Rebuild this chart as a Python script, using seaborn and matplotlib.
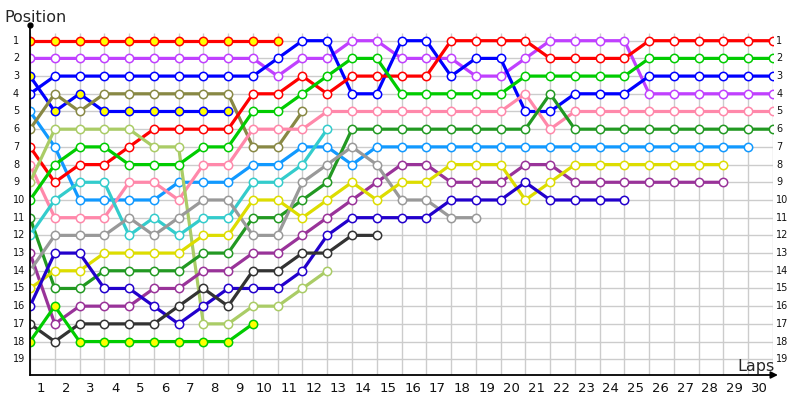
import matplotlib

matplotlib.use("Agg")
import matplotlib.pyplot as plt
import numpy as np
import seaborn as sns

# --------------------------------------------------------------------------- #
# Lap chart data: race position at the end of each lap (lap 0 = grid)
# --------------------------------------------------------------------------- #
red_leader = [1, 1, 1, 1, 1, 1, 1, 1, 1, 1, 1]
violet = [2, 2, 2, 2, 2, 2, 2, 2, 2, 2, 3, 2, 2, 1, 1, 2, 2, 2, 3, 3, 2,
          1, 1, 1, 1, 4, 4, 4, 4, 4, 4]
blue_third = [3, 5, 4, 5, 5, 5, 5, 5, 5]
blue = [4, 3, 3, 3, 3, 3, 3, 3, 3, 3, 2, 1, 1, 4, 4, 1, 1, 3, 2, 2, 5,
        5, 4, 4, 4, 3, 3, 3, 3, 3, 3]
azure = [5, 7, 10, 10, 10, 10, 9, 9, 9, 8, 8, 7, 7, 8, 7, 7, 7, 7, 7, 7,
         7, 7, 7, 7, 7, 7, 7, 7, 7, 7]
olive = [6, 4, 5, 4, 4, 4, 4, 4, 4, 7, 7, 5]
red = [7, 9, 8, 8, 7, 6, 6, 6, 6, 4, 4, 3, 4, 3, 3, 3, 3, 1, 1, 1, 1,
       2, 2, 2, 2, 1, 1, 1, 1, 1, 1]
pink = [8, 11, 11, 11, 9, 9, 10, 8, 8, 6, 6, 6, 5, 5, 5, 5, 5, 5, 5, 5, 4,
        6, 5, 5, 5, 5, 5, 5, 5, 5, 5]
light_green = [9, 6, 6, 6, 6, 7, 7, 17, 17, 16, 16, 15, 14]
green = [10, 8, 7, 7, 8, 8, 8, 7, 7, 5, 5, 4, 3, 2, 2, 4, 4, 4, 4, 4, 3,
         3, 3, 3, 3, 2, 2, 2, 2, 2, 2]
dark_green = [11, 15, 15, 14, 14, 14, 14, 13, 13, 11, 11, 10, 9, 6, 6, 6, 6,
              6, 6, 6, 6, 4, 6, 6, 6, 6, 6, 6, 6, 6, 6]
cyan = [12, 10, 9, 9, 12, 11, 12, 11, 11, 9, 9, 8, 6]
purple = [13, 17, 16, 16, 16, 15, 15, 14, 14, 13, 13, 12, 11, 10, 9, 8, 8,
          9, 9, 9, 8, 8, 9, 9, 9, 9, 9, 9, 9]
gray = [14, 12, 12, 12, 11, 12, 11, 10, 10, 12, 12, 9, 8, 7, 8, 10, 10, 11, 11]
yellow = [15, 14, 14, 13, 13, 13, 13, 12, 12, 10, 10, 11, 10, 9, 10, 9, 9,
          8, 8, 8, 10, 9, 8, 8, 8, 8, 8, 8, 8]
navy = [16, 13, 13, 15, 15, 16, 17, 16, 15, 15, 15, 14, 12, 11, 11, 11, 11,
        10, 10, 10, 9, 10, 10, 10, 10]
dark_gray = [17, 18, 17, 17, 17, 17, 16, 15, 16, 14, 14, 13, 13, 12, 12]
green_last = [18, 16, 18, 18, 18, 18, 18, 18, 18, 17]

series = [red_leader, violet, blue_third, blue, azure, olive, red, pink,
          light_green, green, dark_green, cyan, purple, gray, yellow, navy,
          dark_gray, green_last]
line_colors = ["#ff0000", "#c040ff", "#0000ff", "#0000ff", "#1199ff",
               "#888844", "#ff0000", "#ff88aa", "#aacc66", "#00cc00",
               "#229922", "#33cccc", "#993399", "#999999", "#dddd00",
               "#2200cc", "#333333", "#00cc00"]
face_colors = ["#ffff00", "white", "#ffff00", "white", "white", "white",
               "white", "white", "white", "white", "white", "white", "white",
               "white", "white", "white", "white", "#ffff00"]

n_laps = 30
n_rows = 19
lap_labels = [str(i) for i in range(1, n_laps + 1)]
pos_labels = [str(i) for i in range(1, n_rows + 1)]

# --------------------------------------------------------------------------- #
# Plot
# --------------------------------------------------------------------------- #
sns.set_style("white")
plt.rcParams["font.family"] = ["DejaVu Sans"]

fig = plt.figure(figsize=(8, 4), dpi=100)
ax = fig.add_axes([30 / 800, 25 / 400, 743 / 800, 350 / 400])
y_top, y_bot = 0.113, 19.89
ax.set_xlim(0, n_laps)
ax.set_ylim(y_bot, y_top)

# grid
ax.vlines(np.arange(0, n_laps + 1), 0.56, y_bot, color="#cccccc", lw=1, zorder=0)
ax.hlines(np.arange(1, n_rows + 1), 0, n_laps, color="#cccccc", lw=1, zorder=0)

for pos, lc, fc in zip(series, line_colors, face_colors):
    laps = np.arange(len(pos))
    sns.lineplot(x=laps, y=pos, ax=ax, color=lc, lw=2.3, marker="o",
                 markersize=6, markerfacecolor=fc, markeredgecolor=lc,
                 markeredgewidth=1.1, estimator=None, sort=False, legend=False)

for s in ["top", "right", "bottom"]:
    ax.spines[s].set_visible(False)
ax.spines["left"].set_color("black")
ax.spines["left"].set_linewidth(1.3)
ax.set_xticks([])
ax.set_yticks([])
ax.set_xlabel("")
ax.set_ylabel("")

# axis line with arrow and top dot
ax.annotate("", xy=(n_laps + 0.2, y_bot), xytext=(0, y_bot),
            arrowprops=dict(arrowstyle="-|>", color="black", lw=1.3,
                            mutation_scale=10, shrinkA=0, shrinkB=0),
            annotation_clip=False)
ax.plot([0], [y_top], marker="o", ms=3.5, color="black", clip_on=False)

# labels
for i, lab in enumerate(pos_labels, start=1):
    ax.text(-0.69, i, lab, ha="left", va="center", fontsize=7, color="#111111",
            clip_on=False)
    ax.text(n_laps + 0.13, i, lab, ha="left", va="center", fontsize=7,
            color="#111111", clip_on=False)
for i, lab in enumerate(lap_labels, start=1):
    ax.text(i - 0.55, 20.68, lab, ha="center", va="center", fontsize=9.5,
            color="#111111", clip_on=False)

fig.text(4 / 800, 1 - 22 / 400, "Position", fontsize=11.5, ha="left",
         va="baseline")
fig.text(775 / 800, 1 - 371 / 400, "Laps", fontsize=11.5, ha="right",
         va="baseline")

fig.savefig("out.png", dpi=100)
plt.close(fig)
